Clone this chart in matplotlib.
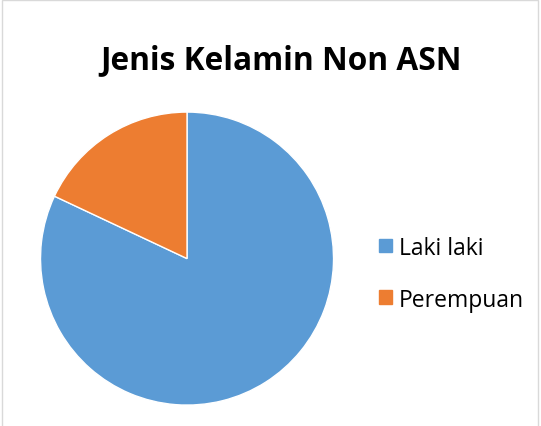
import matplotlib
matplotlib.use("Agg")
import matplotlib.pyplot as plt
from matplotlib.patches import Rectangle, Patch

# data
labels = ["Laki laki", "Perempuan"]
values = [82, 18]
colors = ["#5B9BD5", "#ED7D31"]

plt.rcParams['font.family'] = ['Open Sans', 'DejaVu Sans']

fig = plt.figure(figsize=(5.41, 4.27), dpi=100)

# chart border
fig.patches.append(Rectangle((0.004, -0.01), 0.99, 1.007, transform=fig.transFigure,
                             fill=False, edgecolor="#D9D9D9", linewidth=1))

ax = fig.add_axes([0.0749, 0.049, 0.5416, 0.6862])
ax.pie(values, colors=colors, startangle=90, counterclock=False,
       wedgeprops=dict(edgecolor="white", linewidth=1))
ax.set_xlim(-1, 1)
ax.set_ylim(-1, 1)
ax.set_aspect("equal")

fig.text(0.519, 0.857, "Jenis Kelamin Non ASN", ha="center", va="center",
         fontsize=22.8, fontweight="bold")

handles = [Patch(facecolor=c, edgecolor=c) for c in colors]
fig.legend(handles, labels, loc="center left", bbox_to_anchor=(0.663, 0.357),
           frameon=False, fontsize=16.5, handlelength=0.56, handleheight=0.56,
           handletextpad=0.3, labelspacing=1.22)

fig.savefig("out.png", dpi=100)
